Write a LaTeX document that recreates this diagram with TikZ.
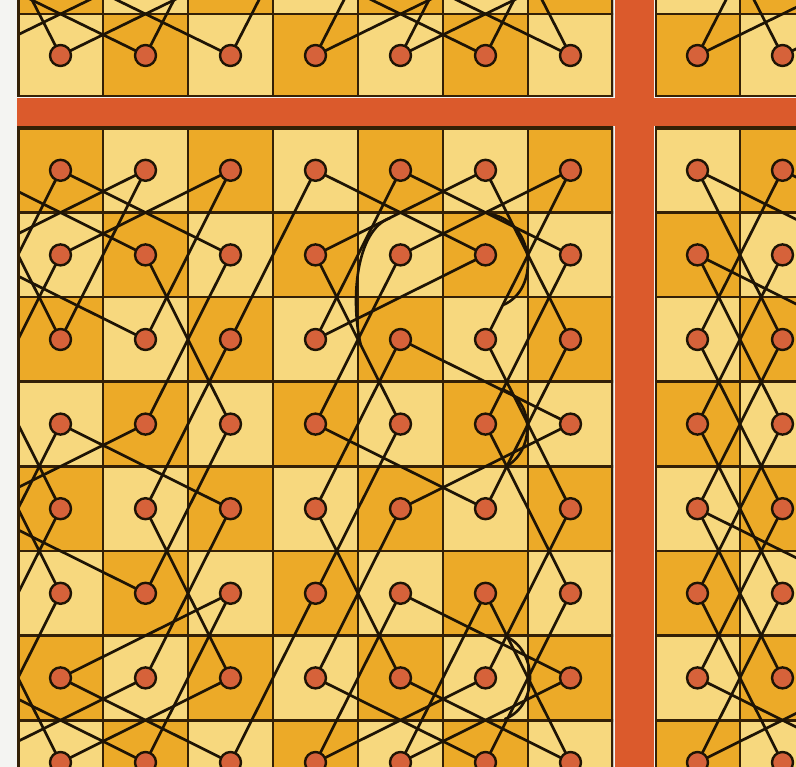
\documentclass[tikz,border=0pt]{standalone}
\definecolor{lightc}{RGB}{247,216,126}
\definecolor{darkc}{RGB}{236,170,40}
\definecolor{bandc}{RGB}{219,90,44}
\definecolor{dotc}{RGB}{214,98,58}
\definecolor{inkc}{RGB}{30,20,5}
\definecolor{gridc}{RGB}{52,32,6}
\definecolor{marginc}{RGB}{244,244,242}
\tikzset{
  gridline/.style={draw=gridc, line width=2.6pt},
  boardedge/.style={draw=gridc, line width=3.2pt},
  knight/.style={draw=inkc, line width=2.7pt, line cap=round},
  arcline/.style={draw=inkc, line width=2.6pt, line cap=round},
  dotn/.style={circle, fill=dotc, draw=inkc, line width=2.4pt, minimum size=21pt, inner sep=0pt},
  band/.style={fill=bandc}
}
\begin{document}
\begin{tikzpicture}[x=1pt,y=-1pt]
\useasboundingbox (0,0) rectangle (796,767);
\fill[marginc] (0,0) rectangle (796,767);

% ---------- coordinates ----------
\foreach \r in {0,...,7} \foreach \c in {-1,...,6} {
  \pgfmathtruncatemacro\k{\c+1}
  \coordinate (A-\r-\k) at ({60.5+85*\c},{170.3+84.6*\r});
}
\foreach \m in {1,2,3} \foreach \c in {-1,...,6} {
  \pgfmathtruncatemacro\k{\c+1}
  \coordinate (B-\m-\k) at ({60.5+85*\c},{55.5-83*(\m-1)});
}
\foreach \m in {1,2,3} \foreach \c in {7,...,10} {
  \pgfmathtruncatemacro\k{\c-7}
  \coordinate (C-\m-\k) at ({697.5+85*(\c-7)},{55.5-83*(\m-1)});
}
\foreach \r in {0,...,7} \foreach \c in {7,...,10} {
  \pgfmathtruncatemacro\k{\c-7}
  \coordinate (D-\r-\k) at ({697.5+85*(\c-7)},{170.3+84.6*\r});
}

% ---------- main board A ----------
\begin{scope}
\clip (17,126) rectangle (613,767);
\foreach \r in {0,...,7} \foreach \c in {-1,...,6} {
  \pgfmathtruncatemacro\p{mod(\r+\c+20,2)}
  \ifnum\p=0 \colorlet{cc}{darkc}\else\colorlet{cc}{lightc}\fi
  \fill[cc] ({18+85*\c},{128+84.6*\r}) rectangle ++(85,84.6);
}
\foreach \r in {0,...,7} \foreach \c in {-1,...,6} {
  \draw[gridline] ({18+85*\c},{128+84.6*\r}) rectangle ++(85,84.6);
}
\foreach \a/\b/\c/\d in {0/-1/1/1,0/-1/2/0,0/0/1/2,0/0/2/-1,0/1/1/-1,0/1/2/0,0/2/1/0,0/2/2/1,
  0/3/2/2,0/3/1/5,0/4/1/6,0/4/2/3,0/5/1/3,0/5/2/6,0/6/1/4,0/6/2/5,
  1/-1/2/1,1/0/3/-1,1/1/3/2,1/2/3/1,1/3/3/4,1/4/3/3,1/5/2/3,1/6/3/5,
  2/-1/4/0,2/2/4/1,2/4/3/6,2/4/4/3,2/5/4/6,2/6/4/5,
  3/-1/5/0,3/0/5/-1,3/0/4/2,3/1/4/-1,3/2/5/1,3/3/4/5,3/4/5/3,3/5/5/6,3/6/4/4,
  4/-1/5/1,4/0/6/-1,4/1/6/2,4/2/6/1,4/3/6/4,4/4/6/3,4/6/6/5,
  5/-1/7/0,5/0/7/-1,5/2/7/1,5/2/6/0,5/3/7/2,5/4/6/6,5/4/7/3,5/5/7/4,5/5/7/6,5/6/7/5,
  6/-1/7/1,6/0/7/2,6/1/7/-1,6/2/7/0,6/3/7/5,6/4/7/6,6/5/7/3,6/6/7/4} {
  \pgfmathtruncatemacro\kb{\b+1}
  \pgfmathtruncatemacro\kd{\d+1}
  \draw[knight] (A-\a-\kb) -- (A-\c-\kd);
}
% curved strokes of the artwork, each running from one straight stroke to another
\draw[arcline] (490,214) .. controls (536,222) and (540,290) .. (503,305);
\draw[arcline] (390,218) .. controls (356,230) and (350,300) .. (361,346);
\draw[arcline] (500,389) .. controls (533,396) and (537,448) .. (507,466);
\draw[arcline] (507,637) .. controls (538,652) and (538,706) .. (505,719);
\foreach \r in {0,...,7} \foreach \c in {0,...,6} {
  \pgfmathtruncatemacro\k{\c+1}
  \node[dotn] (dA-\r-\k) at (A-\r-\k) {};
}
\draw[boardedge] (18,128) rectangle (613,805);
\end{scope}

% ---------- top board B ----------
\begin{scope}
\clip (17,0) rectangle (613,97);
\foreach \m in {1,2} \foreach \c in {-1,...,6} {
  \pgfmathtruncatemacro\p{mod(\c-\m+20,2)}
  \ifnum\p=0 \colorlet{cc}{darkc}\else\colorlet{cc}{lightc}\fi
  \fill[cc] ({18+85*\c},{14-83*(\m-1)}) rectangle ++(85,83);
  \draw[gridline] ({18+85*\c},{14-83*(\m-1)}) rectangle ++(85,83);
}
\foreach \a/\b/\c/\d in {1/-1/2/1,1/0/3/-1,1/0/2/2,1/1/2/-1,1/1/3/2,1/2/2/0,1/2/3/3,
  1/3/3/4,1/3/2/5,1/4/3/5,1/4/2/6,1/5/2/3,1/5/3/6,1/6/3/5,1/6/2/4} {
  \pgfmathtruncatemacro\kb{\b+1}
  \pgfmathtruncatemacro\kd{\d+1}
  \draw[knight] (B-\a-\kb) -- (B-\c-\kd);
}
\foreach \c in {0,...,6} {
  \pgfmathtruncatemacro\k{\c+1}
  \node[dotn] (dB-\k) at (B-1-\k) {};
}
\draw[boardedge] (18,-80) rectangle (613,97);
\end{scope}

% ---------- top right board C ----------
\begin{scope}
\clip (655,0) rectangle (796,97);
\foreach \m in {1,2} \foreach \c in {7,...,9} {
  \pgfmathtruncatemacro\p{mod(\c-\m+20,2)}
  \ifnum\p=0 \colorlet{cc}{darkc}\else\colorlet{cc}{lightc}\fi
  \fill[cc] ({655+85*(\c-7)},{14-83*(\m-1)}) rectangle ++(85,83);
  \draw[gridline] ({655+85*(\c-7)},{14-83*(\m-1)}) rectangle ++(85,83);
}
\foreach \a/\b/\c/\d in {1/7/3/8,1/7/2/9,1/8/3/7,1/8/2/10} {
  \pgfmathtruncatemacro\kb{\b-7}
  \pgfmathtruncatemacro\kd{\d-7}
  \draw[knight] (C-\a-\kb) -- (C-\c-\kd);
}
\foreach \k in {0,1} { \node[dotn] (dC-\k) at (C-1-\k) {}; }
\draw[boardedge] (655,-80) rectangle (900,97);
\end{scope}

% ---------- right board D ----------
\begin{scope}
\clip (655,126) rectangle (796,767);
\foreach \r in {0,...,7} \foreach \c in {7,...,9} {
  \pgfmathtruncatemacro\p{mod(\r+\c+20,2)}
  \ifnum\p=0 \colorlet{cc}{darkc}\else\colorlet{cc}{lightc}\fi
  \fill[cc] ({655+85*(\c-7)},{128+84.6*\r}) rectangle ++(85,84.6);
  \draw[gridline] ({655+85*(\c-7)},{128+84.6*\r}) rectangle ++(85,84.6);
}
\foreach \a/\b/\c/\d in {0/7/2/8,0/7/1/9,0/8/2/7,0/8/1/10,1/7/3/8,1/7/2/9,1/8/3/7,
  2/7/4/8,2/8/4/7,3/7/5/8,3/8/5/7,4/7/5/9,4/8/6/7,5/7/7/8,5/8/7/7,6/7/7/9,6/8/4/7,7/7/6/9} {
  \pgfmathtruncatemacro\kb{\b-7}
  \pgfmathtruncatemacro\kd{\d-7}
  \draw[knight] (D-\a-\kb) -- (D-\c-\kd);
}
\foreach \r in {0,...,7} \foreach \k in {0,1} { \node[dotn] (dD-\r-\k) at (D-\r-\k) {}; }
\draw[boardedge] (655,128) rectangle (900,805);
\end{scope}

% ---------- red bands ----------
\fill[band] (17,98.5) rectangle (796,126.5);
\fill[band] (614.5,0) rectangle (653.5,767);
\end{tikzpicture}
\end{document}
